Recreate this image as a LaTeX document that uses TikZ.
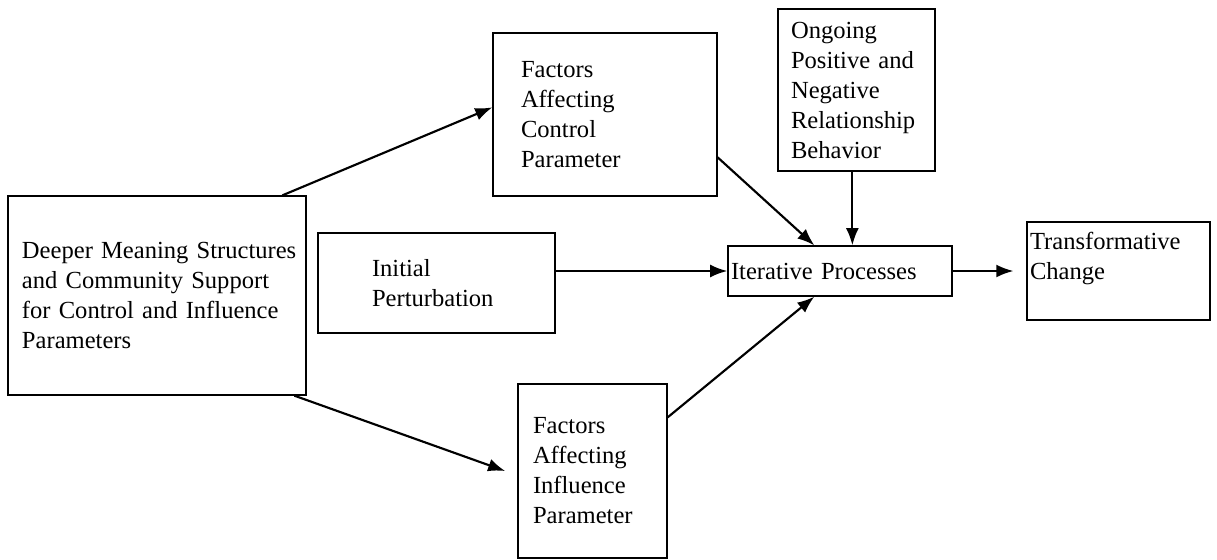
\documentclass[tikz,border=0pt]{standalone}
\usepackage{fontspec}
\setmainfont{Liberation Serif}
\usepackage{tikz}
\usetikzlibrary{calc}
\usetikzlibrary{arrows.meta}

\tikzset{
  blok/.style={draw, line width=0.9pt, align=left, inner ysep=0pt,
    font=\fontsize{17.2pt}{21pt}\selectfont},
  pijl/.style={line width=1.5pt, -{Latex[length=12pt,width=9pt]}}
}

\begin{document}
\begin{tikzpicture}[x=0.7pt, y=-0.7pt]
\useasboundingbox (0,0) rectangle (1217,559);

\node[blok, minimum width=208.6pt, minimum height=139.3pt, inner xsep=9.8pt, text width=189pt] (dms) at (157,295.5)
  {\mbox{Deeper Meaning Structures}\\and Community Support\\for Control and Influence\\Parameters};

\node[blok, minimum width=156.8pt, minimum height=114.1pt, inner xsep=19.6pt, text width=117.6pt] (ctrl) at (605,114.5)
  {Factors\\Affecting\\Control\\Parameter};

\node[blok, minimum width=109.9pt, minimum height=113.4pt, inner xsep=9.1pt, text width=91.7pt] (ongo) at (856.5,90)
  {Ongoing\\Positive and\\Negative\\Relationship\\Behavior};

\node[blok, minimum width=165.9pt, minimum height=70pt, inner xsep=37.8pt, text width=90.3pt] (init) at (436.5,283)
  {Initial\\Perturbation};

\node[blok, minimum width=156.8pt, minimum height=35pt, inner xsep=2.1pt, text width=152.6pt] (iter) at (840,271)
  {Iterative Processes};

\node[blok, minimum width=128.1pt, minimum height=68.6pt, inner xsep=2.1pt, text width=123.9pt] (trans) at (1118.5,271)
  {Transformative\\Change\\\mbox{}};

\node[blok, minimum width=104.3pt, minimum height=121.8pt, inner xsep=10.5pt, text width=83.3pt] (infl) at (592.5,471)
  {Factors\\Affecting\\Influence\\Parameter};

\draw[pijl] ($(dms.north west)+(275,0)$) -- ($(ctrl.north west)+(0,75)$);
\draw[pijl, shorten >=9pt] ($(dms.south west)+(287,0)$) -- ($(infl.north west)+(0,92)$);

\draw[pijl] ($(ctrl.north east)+(0,125)$) -- ($(iter.north west)+(87,0)$);
\draw[pijl] ($(ongo.south west)+(75,0)$) coordinate (ob) -- (ob |- iter.north);
\draw[pijl] (iter.west -| init.east) -- (iter.west);
\draw[pijl] ($(infl.north east)+(0,34)$) -- ($(iter.south west)+(87,0)$);

\draw[pijl, shorten >=9pt] (iter.east) -- (trans.west);
\end{tikzpicture}
\end{document}
